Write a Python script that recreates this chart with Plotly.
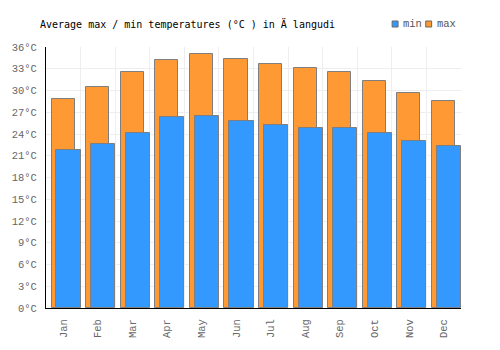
import plotly.graph_objects as go

months = ["Jan", "Feb", "Mar", "Apr", "May", "Jun", "Jul", "Aug", "Sep", "Oct", "Nov", "Dec"]
t_min = [21.8, 22.6, 24.1, 26.3, 26.5, 25.8, 25.2, 24.8, 24.8, 24.1, 23.1, 22.3]
t_max = [28.8, 30.5, 32.5, 34.2, 35.0, 34.3, 33.6, 33.1, 32.6, 31.3, 29.7, 28.5]
y_ticks = list(range(0, 37, 3))
y_labels = [f"{v}°C" for v in y_ticks]

FONT = "DejaVu Sans Mono"
TICKFONT = "Liberation Mono"
BLUE = "#3399ff"
ORANGE = "#ff9933"
EDGE = "#7f7f7f"

fig = go.Figure()
fig.add_trace(go.Bar(
    x=months, y=t_max, name="max",
    marker=dict(color=ORANGE, line=dict(color=EDGE, width=1)),
    offset=-0.34, width=0.668, showlegend=False,
))
fig.add_trace(go.Bar(
    x=months, y=t_min, name="min",
    marker=dict(color=BLUE, line=dict(color=EDGE, width=1)),
    offset=-0.198, width=0.698, showlegend=False,
))

# custom legend
legend_items = [("min", BLUE, 391), ("max", ORANGE, 425)]
for label, col, px in legend_items:
    fig.add_shape(type="rect", xref="paper", yref="paper",
                  x0=(px - 40.7) / 420, x1=(px + 6 - 40.7) / 420,
                  y0=(308 - 21) / 261, y1=(308 - 27) / 261,
                  fillcolor=col, line=dict(color="#666666", width=1))
    fig.add_annotation(text=label, xref="paper", yref="paper",
                       x=(px + 9 - 40.7) / 420, y=(308 - 24) / 261,
                       xanchor="left", yanchor="middle", showarrow=False,
                       font=dict(family=TICKFONT, size=10.5, color="#555555"))

fig.update_layout(
    width=500, height=350,
    margin=dict(l=40.7, r=39.3, t=47, b=42),
    paper_bgcolor="white", plot_bgcolor="white",
    barmode="overlay", bargap=0,
    title=dict(text="Average max / min temperatures (°C ) in Ä langudi",
               x=40 / 500, xref="container", xanchor="left",
               y=1 - 24 / 350, yref="container", yanchor="middle",
               font=dict(family=FONT, size=10, color="#000000")),
    font=dict(family=TICKFONT, size=10, color="#666666"),
)
fig.update_xaxes(
    type="category", range=[-0.5, 11.5], tickson="boundaries",
    showgrid=True, gridcolor="#eeeeee", gridwidth=1,
    showline=True, linecolor="#000000", linewidth=1,
    ticks="", tickangle=-90, ticklabelstandoff=6,
    tickfont=dict(family=TICKFONT, size=10.5, color="#666666"),
    fixedrange=True,
)
fig.update_yaxes(
    range=[0, 36], tickvals=y_ticks, ticktext=y_labels,
    showgrid=True, gridcolor="#eeeeee", gridwidth=1,
    showline=True, linecolor="#000000", linewidth=1,
    ticks="", ticklabelstandoff=6, zeroline=False,
    tickfont=dict(family=TICKFONT, size=10.5, color="#666666"),
    fixedrange=True,
)

fig.write_html("out.html")
